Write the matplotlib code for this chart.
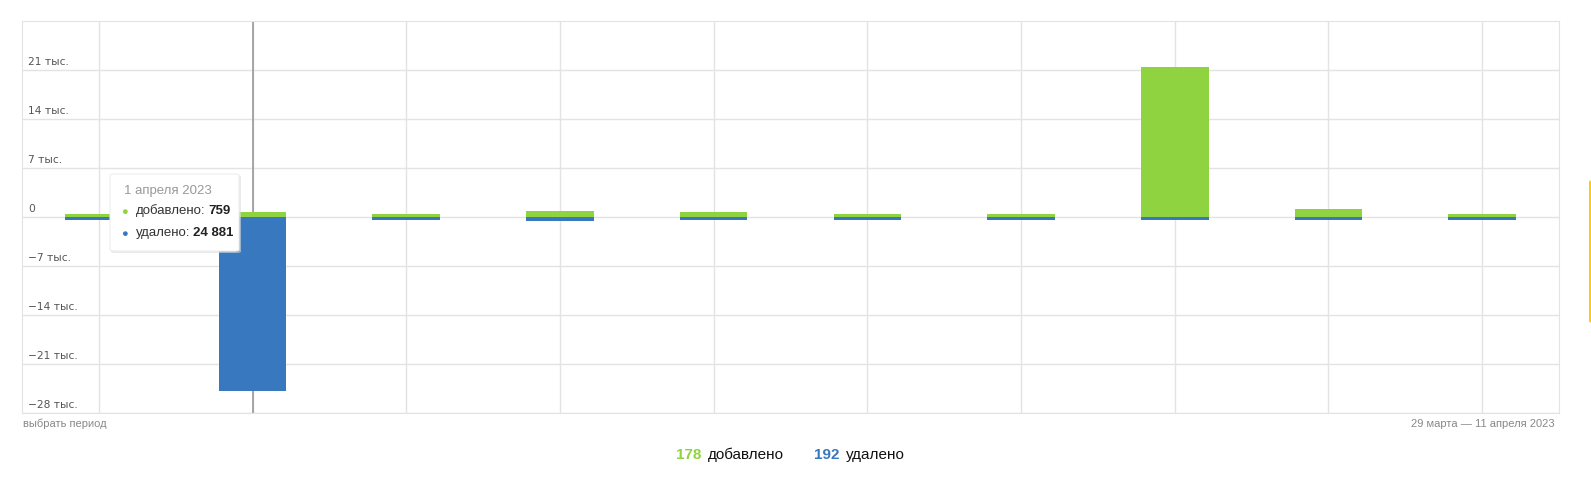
import matplotlib
matplotlib.use("Agg")
import matplotlib.pyplot as plt
from matplotlib.patches import FancyBboxPatch
import matplotlib.transforms as mtransforms

# data (one bar per day)
days = ["31 марта", "1 апреля", "2 апреля", "3 апреля", "4 апреля",
        "5 апреля", "6 апреля", "7 апреля", "8 апреля", "9 апреля"]
added = [380, 759, 380, 800, 650, 380, 380, 21500, 1150, 380]
deleted = [430, 24881, 470, 620, 470, 470, 470, 450, 470, 470]
yticks = [-28000, -21000, -14000, -7000, 0, 7000, 14000, 21000]
ytick_labels = ["−28 тыс.", "−21 тыс.", "−14 тыс.", "−7 тыс.", "0",
                "7 тыс.", "14 тыс.", "21 тыс."]
total_added = 178
total_deleted = 192

GREEN = "#8fd440"
BLUE = "#3778be"
GRID = "#e3e3e3"

W, H = 1591, 488
fig = plt.figure(figsize=(W / 100, H / 100), dpi=100)
plt.rcParams['font.family'] = ['Liberation Sans', 'DejaVu Sans']

left, top, right, bottom = 22, 21, 1559, 413
ax = fig.add_axes([left / W, 1 - bottom / H, (right - left) / W, (bottom - top) / H])

x = list(range(len(days)))
ax.bar(x, added, width=0.44, color=GREEN, zorder=3)
ax.bar(x, [-d for d in deleted], width=0.44, color=BLUE, zorder=3)

ax.set_xlim(-0.5, len(days) - 0.5)
ax.set_ylim(-28000, 28000)
ax.set_xticks(x)
ax.set_yticks(yticks)
ax.grid(True, color=GRID, linewidth=1, zorder=0)
ax.tick_params(length=0, labelbottom=False, labelleft=False)
for s in ax.spines.values():
    s.set_color(GRID)

# hover cursor line on the selected day
ax.axvline(1, color="#999999", linewidth=1.2, zorder=2)

# y labels sit inside the plot, just above each grid line
trans = mtransforms.offset_copy(ax.get_yaxis_transform(), fig=fig, x=6, y=3, units='dots')
for v, lab in zip(yticks, ytick_labels):
    ax.text(0, v, lab, transform=trans, ha='left', va='bottom',
            fontsize=7.7, color="#555555", family=['DejaVu Sans'])

def fx(px):
    return px / W

def fy(py):
    return 1 - py / H

# tooltip
shadow = FancyBboxPatch((fx(111), fy(253)), fx(241) - fx(111), fy(175) - fy(253),
                        boxstyle="round,pad=0,rounding_size=0.003",
                        transform=fig.transFigure, facecolor="#dddddd",
                        edgecolor="none", alpha=0.6, zorder=5)
fig.patches.append(shadow)
tip = FancyBboxPatch((fx(110), fy(251)), fx(239) - fx(110), fy(174) - fy(251),
                     boxstyle="round,pad=0,rounding_size=0.003",
                     transform=fig.transFigure, facecolor="white",
                     edgecolor="#eeeeee", linewidth=0.8, zorder=6)
fig.patches.append(tip)
fig.text(fx(124), fy(191), "1 апреля 2023", fontsize=9.5, color="#999999",
         va='center', zorder=7)
fig.text(fx(121), fy(212), "●", fontsize=8, color=GREEN, va='center', zorder=7)
t1 = fig.text(fx(136), fy(211), "добавлено:", fontsize=9.5, color="#333333",
              va='center', zorder=7)
fig.add_artist(plt.Annotation("759", xy=(1, 0.5), xycoords=t1, xytext=(2, 0),
                              textcoords='offset points', fontsize=9.5, color="#222222",
                              va='center', weight='bold', zorder=7))
fig.text(fx(121), fy(234), "●", fontsize=8, color=BLUE, va='center', zorder=7)
t2 = fig.text(fx(136), fy(233), "удалено:", fontsize=9.5, color="#333333",
              va='center', zorder=7)
fig.add_artist(plt.Annotation("24 881", xy=(1, 0.5), xycoords=t2, xytext=(2, 0),
                              textcoords='offset points', fontsize=9.5, color="#222222",
                              va='center', weight='bold', zorder=7))

# captions under the plot
fig.text(fx(23), fy(424), "выбрать период", fontsize=8, color="#888888", va='center')
fig.text(fx(1555), fy(424), "29 марта — 11 апреля 2023", fontsize=8,
         color="#888888", va='center', ha='right')

# legend totals
fig.text(fx(676), fy(455), str(total_added), fontsize=11, color=GREEN,
         weight='bold', va='center')
fig.text(fx(708), fy(455), "добавлено", fontsize=11, color="#111111", va='center')
fig.text(fx(814), fy(455), str(total_deleted), fontsize=11, color=BLUE,
         weight='bold', va='center')
fig.text(fx(846), fy(455), "удалено", fontsize=11, color="#111111", va='center')

# yellow tab cut off on the right edge
tab = FancyBboxPatch((fx(1589), fy(323)), fx(1600) - fx(1589), fy(180) - fy(323),
                     boxstyle="round,pad=0,rounding_size=0.004",
                     transform=fig.transFigure, facecolor="#ffcc00",
                     edgecolor="none", zorder=5)
fig.patches.append(tab)

fig.savefig("out.png", dpi=100)
